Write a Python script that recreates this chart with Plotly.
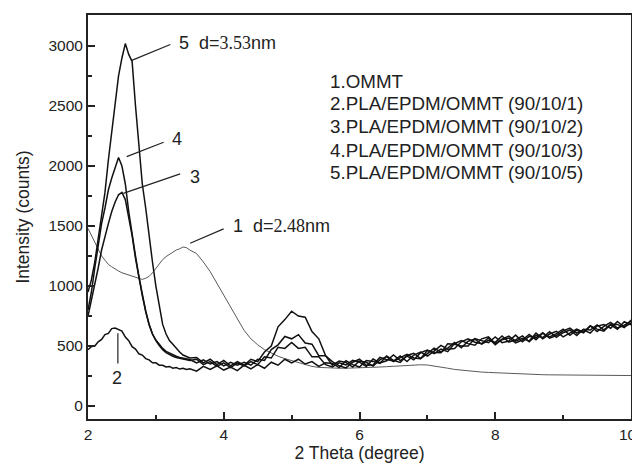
import plotly.graph_objects as go

# 2-theta sampling positions (degree)
two_theta = [2.00, 2.05, 2.10, 2.15, 2.20, 2.25, 2.30, 2.35, 2.40, 2.45, 2.50, 2.55, 2.60, 2.65, 2.70,
             2.75, 2.80, 2.85, 2.90, 2.95, 3.00, 3.05, 3.10, 3.15, 3.20, 3.25, 3.30, 3.35, 3.40, 3.45, 3.50,
             3.6, 3.7, 3.8, 3.9, 4.0, 4.1, 4.2, 4.3, 4.4, 4.5, 4.6, 4.7, 4.8, 4.9, 5.0, 5.1, 5.2, 5.3, 5.4, 5.5,
             5.6, 5.7, 5.8, 5.9, 6.0, 6.1, 6.2, 6.3, 6.4, 6.5,
             6.6, 6.7, 6.8, 6.9, 7.0, 7.1, 7.2, 7.3, 7.4, 7.5,
             7.6, 7.7, 7.8, 7.9, 8.0, 8.1, 8.2, 8.3, 8.4, 8.5,
             8.6, 8.7, 8.8, 8.9, 9.0, 9.1, 9.2, 9.3, 9.4, 9.5,
             9.6, 9.7, 9.8, 9.9, 10.0]

# 1. OMMT
ommt = [1480, 1420, 1370, 1300, 1250, 1215, 1180, 1160, 1140, 1125, 1110, 1100, 1090, 1085, 1070,
        1060, 1055, 1065, 1080, 1110, 1150, 1190, 1220, 1245, 1265, 1280, 1300, 1310, 1325, 1320, 1300,
        1270, 1200, 1120, 1020, 930, 820, 720, 630, 560, 510, 470, 440, 415, 395, 380, 365, 345, 330, 322, 318,
        315, 315, 315, 316, 318, 320, 322, 325, 328, 332,
        335, 338, 342, 344, 342, 335, 325, 315, 305, 298,
        292, 288, 283, 280, 277, 274, 270, 268, 266, 264,
        262, 261, 260, 259, 258, 258, 257, 257, 256, 256,
        255, 255, 255, 254, 254]

# 2. PLA/EPDM/OMMT (90/10/1)
blend_1 = [470, 495, 500, 535, 555, 595, 605, 645, 650, 635, 625, 575, 545, 495, 475,
           435, 425, 395, 385, 360, 360, 340, 340, 325, 330, 315, 320, 308, 315, 305, 310,
           290, 330, 305, 335, 300, 325, 295, 340, 310, 345, 315, 365, 340, 390, 360, 390, 350, 370, 330, 360,
           355, 320, 378, 345, 325, 380, 372, 355, 417, 380,
           363, 421, 440, 395, 437, 482, 450, 483, 530, 485,
           540, 557, 515, 547, 530, 583, 532, 551, 585, 536,
           588, 571, 620, 573, 611, 634, 587, 640, 633, 676,
           634, 677, 640, 703, 676]

# 3. PLA/EPDM/OMMT (90/10/2)
blend_2 = [750, 880, 1000, 1150, 1300, 1420, 1520, 1620, 1700, 1760, 1780, 1720, 1580, 1420, 1230,
           1070, 920, 790, 680, 600, 545, 505, 470, 445, 428, 415, 405, 398, 390, 385, 380,
           390, 345, 370, 330, 360, 320, 358, 335, 370, 345, 410, 400, 490, 480, 530, 480, 490, 410, 410, 345,
           325, 360, 343, 380, 365, 330, 392, 360, 377, 425,
           378, 416, 385, 445, 467, 437, 475, 453, 520, 545,
           520, 507, 560, 577, 520, 553, 567, 526, 550, 596,
           553, 606, 575, 603, 641, 589, 632, 610, 668, 641,
           624, 682, 680, 653, 716]

# 4. PLA/EPDM/OMMT (90/10/3)
blend_3 = [800, 950, 1150, 1350, 1520, 1650, 1800, 1900, 1980, 2070, 2000, 1850, 1620, 1420, 1250,
           1080, 930, 790, 680, 600, 550, 510, 480, 455, 440, 425, 415, 405, 398, 392, 388,
           360, 385, 350, 370, 335, 365, 340, 365, 340, 390, 380, 470, 510, 580, 560, 595, 525, 515, 420, 420,
           370, 335, 318, 365, 390, 340, 342, 405, 387, 375,
           418, 371, 425, 450, 417, 457, 505, 473, 480, 535,
           560, 532, 520, 567, 510, 558, 582, 541, 565, 541,
           608, 561, 600, 623, 576, 609, 642, 615, 668, 621,
           664, 697, 650, 673, 706]

# 5. PLA/EPDM/OMMT (90/10/5)
blend_5 = [950, 1050, 1200, 1380, 1560, 1780, 2050, 2300, 2520, 2750, 2900, 3020, 2930, 2870, 2500,
           2150, 1850, 1650, 1400, 1200, 1000, 820, 680, 600, 545, 515, 480, 450, 425, 410, 400,
           405, 360, 390, 345, 380, 335, 370, 340, 390, 370, 450, 500, 660, 720, 790, 750, 740, 620, 560, 420,
           340, 375, 363, 325, 375, 365, 332, 385, 412, 370,
           403, 431, 400, 395, 462, 447, 445, 518, 515, 500,
           500, 562, 545, 527, 575, 528, 542, 591, 535, 581,
           568, 611, 565, 588, 626, 649, 607, 635, 608, 666,
           679, 647, 705, 658, 691]

legend_lines = ["1.OMMT", "2.PLA/EPDM/OMMT (90/10/1)", "3.PLA/EPDM/OMMT (90/10/2)",
                "4.PLA/EPDM/OMMT (90/10/3)", "5.PLA/EPDM/OMMT (90/10/5)"]

x_ticks = [2, 4, 6, 8, 10]
x_tick_text = ["2", "4", "6", "8", ""]   # last label drawn separately so it stays inside the page
y_ticks = [0, 500, 1000, 1500, 2000, 2500, 3000]

SANS = "Liberation Sans, Arial, sans-serif"
INK = "#222222"

fig = go.Figure()
fig.add_trace(go.Scatter(x=two_theta, y=ommt, mode="lines", line=dict(color="#5a5a5a", width=1)))
for ys in (blend_1, blend_2, blend_3, blend_5):
    fig.add_trace(go.Scatter(x=two_theta, y=ys, mode="lines", line=dict(color="#111111", width=1.5)))

annotations = []
# leader lines (tip -> tail)
leaders = [
    ((2.645, 2880), (3.235, 3017)),
    ((2.57, 2078), (3.137, 2203)),
    ((2.52, 1772), (3.38, 1939)),
    ((3.505, 1356), (4.02, 1481)),
    ((2.44, 606), (2.44, 342)),
]
for (tx, ty), (sx, sy) in leaders:
    annotations.append(dict(x=tx, y=ty, ax=sx, ay=sy, xref="x", yref="y", axref="x", ayref="y",
                            text="", showarrow=True, arrowhead=0, arrowwidth=1.2, arrowcolor=INK))

lab_font = dict(family=SANS, size=18, color=INK)
annotations.append(dict(x=3.31, y=3025, xref="x", yref="y", xanchor="left", yanchor="middle",
                        text="5  d=<span style=\"font-family:'Liberation Serif',serif\">3.53</span>nm",
                        showarrow=False, font=lab_font))
annotations.append(dict(x=3.21, y=2225, xref="x", yref="y", xanchor="left", yanchor="middle",
                        text="4", showarrow=False, font=lab_font))
annotations.append(dict(x=3.48, y=1905, xref="x", yref="y", xanchor="left", yanchor="middle",
                        text="3", showarrow=False, font=lab_font))
annotations.append(dict(x=4.10, y=1500, xref="x", yref="y", xanchor="left", yanchor="middle",
                        text="1  d=<span style=\"font-family:'Liberation Serif',serif\">2.48</span>nm",
                        showarrow=False, font=lab_font))
annotations.append(dict(x=2.43, y=230, xref="x", yref="y", xanchor="center", yanchor="middle",
                        text="2", showarrow=False, font=lab_font))

leg_y = [2708, 2517, 2325, 2133, 1942]
for txt, yy in zip(legend_lines, leg_y):
    annotations.append(dict(x=5.53, y=yy, xref="x", yref="y", xanchor="left", yanchor="middle",
                            text=txt, showarrow=False,
                            font=dict(family=SANS, size=18.8, color=INK)))

# last x tick label
annotations.append(dict(x=10, y=0, xref="x", yref="paper", xanchor="right", yanchor="top",
                        xshift=8, yshift=-5, text="10", showarrow=False,
                        font=dict(family=SANS, size=15.5, color=INK)))

axis_common = dict(showline=True, linewidth=2, linecolor=INK, mirror=True, automargin=False,
                   showgrid=False, zeroline=False, ticks="inside", ticklen=7, tickwidth=1.5,
                   tickcolor=INK, tickfont=dict(family=SANS, size=15.5, color=INK))

# the page body adds an 8 px offset, margins compensate for it
fig.update_layout(
    width=640, height=472,
    margin=dict(l=80, r=17, t=7, b=61, autoexpand=False),
    paper_bgcolor="white", plot_bgcolor="white",
    showlegend=False,
    annotations=annotations,
    xaxis=dict(range=[2, 10], tickvals=x_ticks, ticktext=x_tick_text,
               minor=dict(ticks="inside", dtick=1, tick0=2, ticklen=4, tickwidth=1.5, tickcolor=INK),
               title=dict(text="2 Theta (degree)", font=dict(family=SANS, size=17.5, color=INK), standoff=4),
               **axis_common),
    yaxis=dict(range=[-108, 3258], tickvals=y_ticks, ticktext=[str(v) for v in y_ticks],
               minor=dict(ticks="inside", dtick=250, tick0=0, ticklen=4, tickwidth=1.5, tickcolor=INK),
               title=dict(text="Intensity (counts)", font=dict(family=SANS, size=17.5, color=INK), standoff=14),
               **axis_common),
)

fig.write_html("out.html")
